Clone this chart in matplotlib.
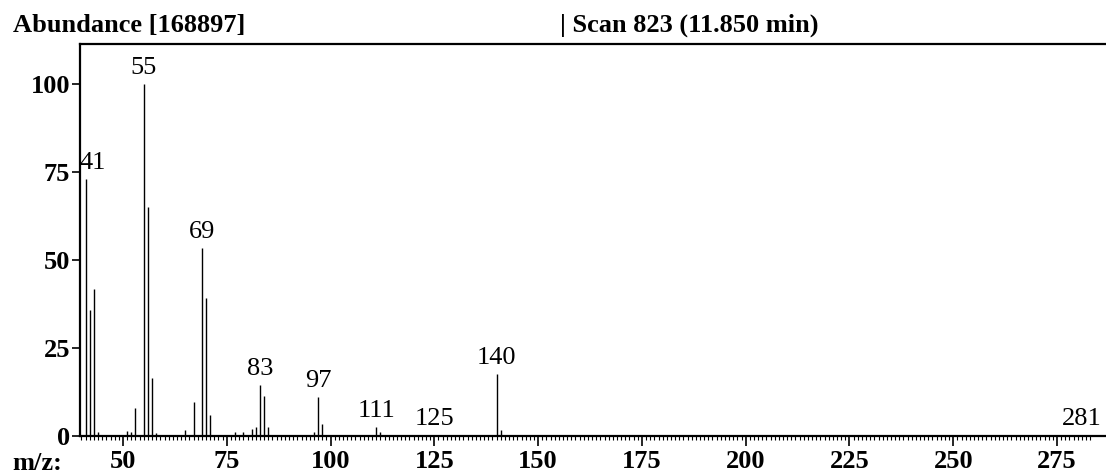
import matplotlib.pyplot as plt
from matplotlib.ticker import FixedLocator

# Mass spectrum peaks (m/z, relative abundance %)
mz = [41, 42, 43, 44, 51, 52, 53, 55, 56, 57, 58, 65, 67, 69, 70, 71,
      77, 79, 81, 82, 83, 84, 85, 96, 97, 98, 111, 112, 125, 140, 141, 281]
abundance = [73.1, 35.7, 41.8, 1.0, 1.5, 1.0, 8.0, 100.0, 65.1, 16.6, 0.8,
             1.6, 9.6, 53.5, 39.3, 5.9, 1.0, 1.0, 2.1, 2.7, 14.4, 11.3, 2.6,
             1.0, 11.2, 3.3, 2.6, 1.2, 0.4, 17.5, 1.6, 0.4]
labelled = [41, 55, 69, 83, 97, 111, 125, 140, 281]

x_ticks = [50, 75, 100, 125, 150, 175, 200, 225, 250, 275]
y_ticks = [0, 25, 50, 75, 100]

serif = "Liberation Serif"
fs = 19

fig = plt.figure(figsize=(11.06, 4.76), dpi=100)
ax = fig.add_axes([80 / 1106, 40 / 476, 1026 / 1106, 392 / 476])

ax.vlines(mz, 0, abundance, color="black", linewidth=1.0)

for m, a in zip(mz, abundance):
    if m in labelled:
        dx = 5 if m == 41 else 0
        ax.annotate(str(m), (m, a), xytext=(dx, 7.2), textcoords="offset points",
                    ha="center", va="baseline", fontsize=fs, family=serif)

ax.set_xlim(39.64, 286.8)
ax.set_ylim(0, 111.5)
ax.set_xticks(x_ticks)
ax.set_yticks(y_ticks)
ax.xaxis.set_minor_locator(FixedLocator(range(40, 284)))

ax.spines["right"].set_visible(False)
for side in ("left", "bottom", "top"):
    ax.spines[side].set_linewidth(1.6)

ax.tick_params(axis="both", which="major", direction="out", length=6,
               width=1.2, labelsize=fs, pad=1)
ax.tick_params(axis="x", which="minor", direction="out", length=3, width=0.8)
ax.tick_params(axis="x", which="major", length=7, pad=3)
for lab in ax.get_xticklabels() + ax.get_yticklabels():
    lab.set_family(serif)
    lab.set_fontweight("bold")

fig.text(13 / 1106, 1 - 32 / 476, "Abundance [168897]", fontsize=fs,
         family=serif, fontweight="bold", va="baseline")
fig.text(560 / 1106, 1 - 32 / 476, "| Scan 823 (11.850 min)", fontsize=fs,
         family=serif, fontweight="bold", va="baseline")
fig.text(12 / 1106, 1 - 470 / 476, "m/z:", fontsize=fs, family=serif,
         fontweight="bold", va="baseline")

fig.savefig("out.png", dpi=100)
